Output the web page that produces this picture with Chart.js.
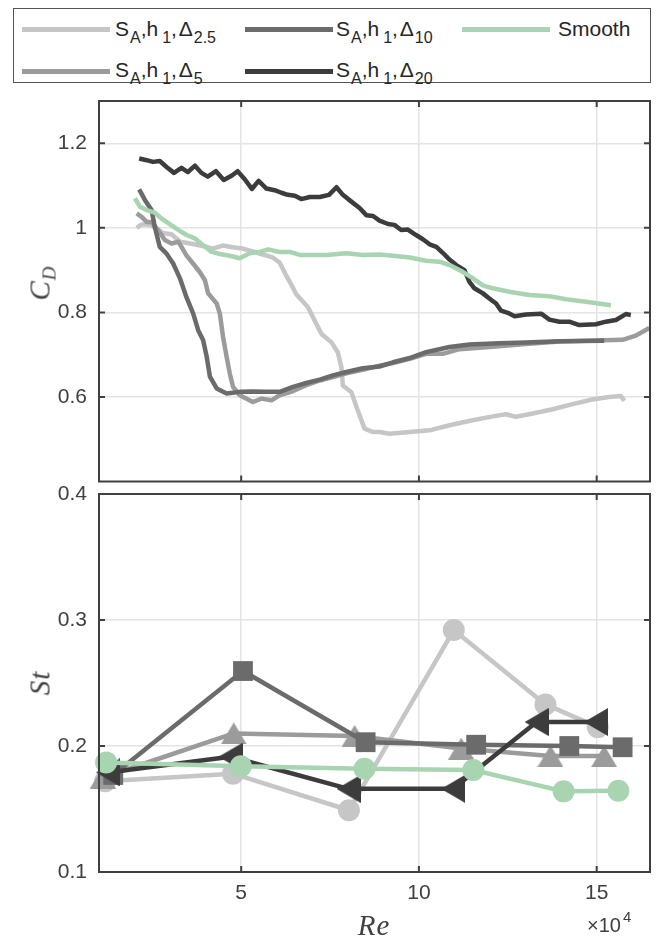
<!DOCTYPE html>
<html>
<head>
<meta charset="utf-8">
<script src="https://cdn.jsdelivr.net/npm/chart.js@4/dist/chart.umd.min.js"></script>
<style>
  html, body { margin: 0; padding: 0; background: #fff; }
  body { width: 662px; height: 939px; position: relative; overflow: hidden;
         font-family: 'Liberation Sans', Arial, sans-serif; color: #404040; }
  .panel { position: absolute; left: 0; width: 662px; }
  #legendBox { position: absolute; left: 13px; top: 8px; width: 638px; height: 75px;
               border: 1px solid #555; box-sizing: border-box; }
  .sw { position: absolute; height: 5px; width: 88px; }
  .lt { position: absolute; font-size: 21px; line-height: 20px; white-space: nowrap; color: #262626; }
  .lt sub { font-size: 16px; line-height: 0; vertical-align: -7px; margin-left: 1px; }
  .ttl { position: absolute; font-family: 'Liberation Serif', 'DejaVu Serif', serif; font-style: italic;
         font-size: 29px; line-height: 29px; letter-spacing: 1px; color: #404040; white-space: nowrap;
         transform: translate(-50%, -50%); }
  .ttl.rot { transform: translate(-50%, -50%) rotate(-90deg); }
  .ttl sub { font-size: 19px; line-height: 0; vertical-align: -6px; }
  #mult { position: absolute; left: 587px; top: 915px; font-size: 20px; line-height: 20px; white-space: nowrap; }
  #mult sup { font-size: 15px; line-height: 0; vertical-align: 10px; margin-left: 2px; }
</style>
</head>
<body>
<div id="legendBox"></div>
<div class="sw" style="left:22px;top:26.5px;background:#c5c6c5"></div>
<div class="lt" style="left:115px;top:19px">S<sub>A</sub>,h<sub style="margin-left:4px">1</sub>,&#8202;Δ<sub>2.5</sub></div>
<div class="sw" style="left:245px;top:26.5px;background:#6b6b6b"></div>
<div class="lt" style="left:336px;top:19px">S<sub>A</sub>,h<sub style="margin-left:4px">1</sub>,&#8202;Δ<sub>10</sub></div>
<div class="sw" style="left:462px;top:26.5px;background:#a9d4b1"></div>
<div class="lt" style="left:558px;top:19px">Smooth</div>
<div class="sw" style="left:22px;top:69px;background:#9b9b9b"></div>
<div class="lt" style="left:115px;top:60px">S<sub>A</sub>,h<sub style="margin-left:4px">1</sub>,&#8202;Δ<sub>5</sub></div>
<div class="sw" style="left:245px;top:69px;background:#3c3c3c"></div>
<div class="lt" style="left:336px;top:60px">S<sub>A</sub>,h<sub style="margin-left:4px">1</sub>,&#8202;Δ<sub>20</sub></div>

<div class="panel" style="top:91px;height:400px"><canvas id="cdChart"></canvas></div>
<div class="panel" style="top:471px;height:468px"><canvas id="stChart"></canvas></div>

<div class="ttl rot" style="left:40px;top:283px">C<sub>D</sub></div>
<div class="ttl rot" style="left:40px;top:683px">St</div>
<div class="ttl" style="left:374px;top:925px">Re</div>
<div id="mult">×10<sup>4</sup></div>

<script>
// Reynolds number in units of 10^4
const reTicks = [5, 10, 15];
const reTickLabels = ['5', '10', '15'];
const cdTicks = [0.6, 0.8, 1, 1.2];
const cdTickLabels = ['0.6', '0.8', '1', '1.2'];
const stTicks = [0.1, 0.2, 0.3, 0.4];
const stTickLabels = ['0.1', '0.2', '0.3', '0.4'];

const seriesNames = ['S_A,h_1,Δ_2.5', 'S_A,h_1,Δ_5', 'S_A,h_1,Δ_10', 'S_A,h_1,Δ_20', 'Smooth'];
const seriesColors = ['#c5c6c5', '#9b9b9b', '#6b6b6b', '#3c3c3c', '#a9d4b1'];

// Drag coefficient sweeps
const reCd25 = [2.06, 2.20, 2.34, 2.48, 2.80, 3.04, 3.28, 3.50, 3.74, 3.98, 4.20, 4.48, 4.76, 5.04, 5.33, 5.61, 5.89, 6.08, 6.28, 6.45, 6.55, 6.88, 7.07, 7.26, 7.54, 7.72, 7.82, 7.86, 8.10, 8.28, 8.47, 8.71, 8.89, 9.17, 9.74, 10.30, 10.86, 11.51, 12.08, 12.45, 12.73, 13.20, 13.76, 14.32, 14.88, 15.35, 15.68, 15.78];
const cd25 = [1.000, 1.008, 1.008, 1.006, 0.988, 0.985, 0.967, 0.964, 0.960, 0.956, 0.951, 0.958, 0.954, 0.951, 0.944, 0.937, 0.930, 0.918, 0.885, 0.859, 0.843, 0.812, 0.780, 0.749, 0.729, 0.705, 0.670, 0.627, 0.611, 0.568, 0.525, 0.517, 0.517, 0.513, 0.517, 0.521, 0.533, 0.545, 0.554, 0.559, 0.553, 0.561, 0.571, 0.583, 0.594, 0.600, 0.602, 0.591];

const reCd5 = [2.06, 2.20, 2.34, 2.48, 2.67, 2.85, 3.04, 3.23, 3.32, 3.46, 3.65, 3.84, 3.98, 4.07, 4.31, 4.40, 4.49, 4.59, 4.68, 4.77, 4.96, 5.33, 5.57, 5.85, 6.08, 6.46, 6.83, 7.21, 7.58, 7.96, 8.42, 8.89, 9.27, 9.74, 10.20, 10.67, 11.14, 12.08, 13.01, 13.95, 15.21, 15.73, 16.10, 16.48];
const cd5 = [1.034, 1.026, 1.014, 1.014, 0.994, 0.971, 0.963, 0.967, 0.955, 0.935, 0.915, 0.895, 0.876, 0.845, 0.821, 0.797, 0.742, 0.695, 0.655, 0.624, 0.604, 0.588, 0.596, 0.592, 0.604, 0.614, 0.628, 0.639, 0.647, 0.656, 0.664, 0.674, 0.680, 0.690, 0.702, 0.702, 0.713, 0.719, 0.725, 0.731, 0.734, 0.735, 0.745, 0.763];

const reCd10 = [2.13, 2.29, 2.48, 2.57, 2.71, 2.90, 3.09, 3.28, 3.46, 3.65, 3.79, 3.93, 4.03, 4.12, 4.31, 4.59, 4.96, 5.33, 5.71, 6.08, 6.46, 6.83, 7.21, 7.58, 7.96, 8.42, 8.89, 9.27, 9.74, 10.20, 10.86, 11.42, 12.26, 13.01, 13.95, 15.21];
const cd10 = [1.091, 1.066, 1.042, 1.002, 0.955, 0.939, 0.915, 0.880, 0.836, 0.797, 0.758, 0.734, 0.695, 0.648, 0.620, 0.608, 0.612, 0.613, 0.612, 0.612, 0.624, 0.633, 0.641, 0.651, 0.659, 0.668, 0.672, 0.682, 0.692, 0.706, 0.718, 0.724, 0.727, 0.729, 0.732, 0.733];

const reCd20 = [2.13, 2.34, 2.52, 2.71, 2.90, 3.11, 3.32, 3.50, 3.70, 3.88, 4.06, 4.29, 4.51, 4.73, 4.90, 5.10, 5.30, 5.49, 5.71, 5.94, 6.13, 6.31, 6.51, 6.69, 6.93, 7.21, 7.47, 7.68, 7.86, 8.10, 8.33, 8.52, 8.71, 8.89, 9.13, 9.31, 9.50, 9.69, 9.92, 10.11, 10.30, 10.49, 10.67, 10.86, 11.05, 11.28, 11.42, 11.56, 11.80, 11.98, 12.17, 12.31, 12.50, 12.69, 13.01, 13.44, 13.67, 13.95, 14.23, 14.51, 14.98, 15.26, 15.54, 15.82, 15.96];
const cd20 = [1.164, 1.160, 1.156, 1.158, 1.144, 1.130, 1.142, 1.132, 1.147, 1.130, 1.121, 1.134, 1.113, 1.123, 1.134, 1.115, 1.092, 1.111, 1.093, 1.089, 1.083, 1.078, 1.076, 1.068, 1.073, 1.073, 1.078, 1.096, 1.078, 1.062, 1.047, 1.030, 1.028, 1.017, 1.009, 1.007, 0.995, 0.996, 0.983, 0.973, 0.961, 0.955, 0.941, 0.925, 0.912, 0.900, 0.872, 0.857, 0.845, 0.833, 0.821, 0.804, 0.799, 0.791, 0.795, 0.797, 0.783, 0.778, 0.778, 0.770, 0.772, 0.778, 0.782, 0.796, 0.794];

const reCdSmooth = [2.01, 2.15, 2.34, 2.57, 2.76, 2.99, 3.23, 3.46, 3.70, 3.93, 4.17, 4.40, 4.68, 4.96, 5.24, 5.52, 5.76, 6.08, 6.37, 6.65, 7.02, 7.40, 7.96, 8.42, 8.89, 9.27, 9.74, 10.20, 10.58, 10.86, 11.23, 11.51, 11.80, 12.08, 12.54, 13.11, 13.67, 14.14, 14.70, 15.40];
const cdSmooth = [1.070, 1.050, 1.042, 1.036, 1.022, 1.009, 0.995, 0.983, 0.975, 0.959, 0.943, 0.938, 0.934, 0.928, 0.940, 0.943, 0.949, 0.943, 0.943, 0.936, 0.936, 0.936, 0.940, 0.936, 0.937, 0.934, 0.930, 0.922, 0.920, 0.912, 0.896, 0.881, 0.864, 0.857, 0.849, 0.841, 0.838, 0.831, 0.825, 0.817];

// Strouhal number at the measured Reynolds numbers
const reSt25 = [1.17, 4.77, 8.03, 10.98, 13.56, 15.03];
const st25 = [0.172, 0.178, 0.149, 0.292, 0.233, 0.215];
const reSt5 = [1.11, 4.79, 8.19, 11.19, 13.70, 15.21];
const st5 = [0.175, 0.210, 0.208, 0.198, 0.192, 0.192];
const reSt10 = [1.40, 5.05, 8.50, 11.61, 14.23, 15.73];
const st10 = [0.177, 0.2595, 0.203, 0.201, 0.200, 0.199];
const reSt20 = [1.25, 4.70, 8.02, 10.96, 13.31, 14.98];
const st20 = [0.179, 0.1915, 0.166, 0.166, 0.219, 0.219];
const reStSmooth = [1.20, 4.99, 8.47, 11.53, 14.07, 15.61];
const stSmooth = [0.187, 0.184, 0.182, 0.181, 0.164, 0.1645];

const zip = (xs, ys) => xs.map((x, i) => ({ x, y: ys[i] }));

Chart.defaults.font.family = "'Liberation Sans', Arial, sans-serif";
Chart.defaults.font.size = 21;
Chart.defaults.color = '#404040';

// Filled triangle markers drawn into small canvases
function triangleMarker(color, dir, w, h) {
  const c = document.createElement('canvas');
  c.width = w; c.height = h;
  const g = c.getContext('2d');
  g.fillStyle = color;
  g.beginPath();
  if (dir === 'up') { g.moveTo(w / 2, 0); g.lineTo(w, h); g.lineTo(0, h); }
  else { g.moveTo(0, h / 2); g.lineTo(w, 0); g.lineTo(w, h); }
  g.closePath();
  g.fill();
  return c;
}

// Box around the plot area with short inward tick marks on all four sides
function boxFrame(xVals, yVals) {
  return {
    id: 'boxFrame',
    afterDraw(chart) {
      const { ctx, chartArea: a } = chart;
      const sx = chart.scales.x, sy = chart.scales.y;
      const L = 6;
      ctx.save();
      ctx.strokeStyle = '#404040';
      ctx.lineWidth = 2;
      ctx.beginPath();
      xVals.forEach(v => {
        const px = sx.getPixelForValue(v);
        ctx.moveTo(px, a.bottom); ctx.lineTo(px, a.bottom - L);
        ctx.moveTo(px, a.top); ctx.lineTo(px, a.top + L);
      });
      yVals.forEach(v => {
        const py = sy.getPixelForValue(v);
        ctx.moveTo(a.left, py); ctx.lineTo(a.left + L, py);
        ctx.moveTo(a.right, py); ctx.lineTo(a.right - L, py);
      });
      ctx.stroke();
      ctx.strokeRect(a.left, a.top, a.right - a.left, a.bottom - a.top);
      ctx.restore();
    }
  };
}

const zeroPad = s => { s.paddingLeft = 0; s.paddingRight = 0; s.paddingTop = 0; s.paddingBottom = 0; };
const gridStyle = { color: '#e4e4e4', lineWidth: 1.5, drawTicks: false };

function xScale(showLabels, height) {
  return {
    type: 'linear', min: 1, max: 16.5,
    afterBuildTicks: s => { s.ticks = reTicks.map(v => ({ value: v })); },
    grid: gridStyle,
    border: { display: false },
    ticks: { display: showLabels, padding: 9, maxRotation: 0,
             callback: (v, i) => reTickLabels[i] },
    afterFit: s => { s.height = height; zeroPad(s); }
  };
}

function yScale(min, max, vals, labels) {
  return {
    type: 'linear', min, max,
    afterBuildTicks: s => { s.ticks = vals.map(v => ({ value: v })); },
    grid: gridStyle,
    border: { display: false },
    ticks: { padding: 12, callback: (v, i) => labels[i] },
    afterFit: s => { s.width = 99; zeroPad(s); }
  };
}

const commonOpts = {
  responsive: true,
  maintainAspectRatio: false,
  animation: false,
  devicePixelRatio: 1,
  plugins: { legend: { display: false }, tooltip: { enabled: false } },
  events: []
};

const cdSeries = [[reCd25, cd25], [reCd5, cd5], [reCd10, cd10], [reCd20, cd20], [reCdSmooth, cdSmooth]];
new Chart(document.getElementById('cdChart'), {
  type: 'line',
  data: {
    datasets: cdSeries.map(([xs, ys], i) => ({
      label: seriesNames[i],
      data: zip(xs, ys),
      borderColor: seriesColors[i],
      borderWidth: 4.5,
      borderJoinStyle: 'round',
      pointRadius: 0,
      tension: 0,
      order: 5 - i
    }))
  },
  options: Object.assign({}, commonOpts, {
    layout: { autoPadding: false, padding: { left: 0, right: 12, top: 10, bottom: 9.5 } },
    scales: {
      x: xScale(false, 0),
      y: yScale(0.4, 1.3, cdTicks, cdTickLabels)
    }
  }),
  plugins: [boxFrame(reTicks, cdTicks)]
});

const stSeries = [[reSt25, st25], [reSt5, st5], [reSt10, st10], [reSt20, st20], [reStSmooth, stSmooth]];
const stMarkers = [
  { style: 'circle', radius: 11 },
  { style: triangleMarker(seriesColors[1], 'up', 26, 22), radius: 12 },
  { style: 'rect', radius: 14 },
  { style: triangleMarker(seriesColors[3], 'left', 24, 28), radius: 12 },
  { style: 'circle', radius: 11 }
];
new Chart(document.getElementById('stChart'), {
  type: 'line',
  data: {
    datasets: stSeries.map(([xs, ys], i) => ({
      label: seriesNames[i],
      data: zip(xs, ys),
      borderColor: seriesColors[i],
      backgroundColor: seriesColors[i],
      borderWidth: 4.5,
      borderJoinStyle: 'round',
      pointStyle: stMarkers[i].style,
      pointRadius: stMarkers[i].radius,
      pointBorderWidth: 0,
      pointBackgroundColor: seriesColors[i],
      tension: 0,
      clip: 14,
      order: 5 - i
    }))
  },
  options: Object.assign({}, commonOpts, {
    layout: { autoPadding: false, padding: { left: 0, right: 12, top: 23, bottom: 0 } },
    scales: {
      x: xScale(true, 67),
      y: yScale(0.1, 0.4, stTicks, stTickLabels)
    }
  }),
  plugins: [boxFrame(reTicks, stTicks)]
});
</script>
</body>
</html>
